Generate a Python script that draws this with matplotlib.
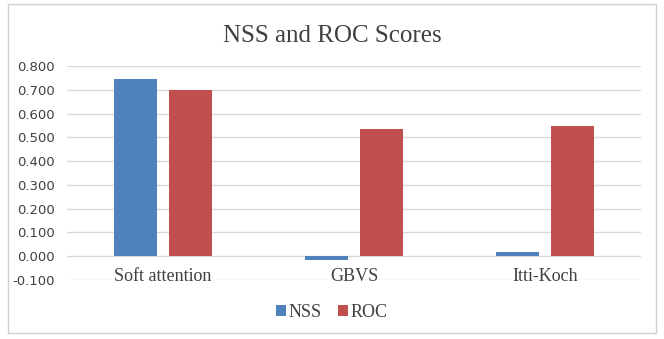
import matplotlib
matplotlib.use("Agg")
import matplotlib.pyplot as plt
from matplotlib.patches import Rectangle
import numpy as np

categories = ["Soft attention", "GBVS", "Itti-Koch"]
nss = [0.744, -0.017, 0.018]
roc = [0.700, 0.535, 0.546]
yticks = [-0.1, 0.0, 0.1, 0.2, 0.3, 0.4, 0.5, 0.6, 0.7, 0.8]

fig = plt.figure(figsize=(6.64, 3.39), dpi=100)
fig.patches.append(Rectangle((0.012, 0.018), 0.976, 0.97, transform=fig.transFigure,
                             fill=False, edgecolor="#d0d0d0", linewidth=1))
ax = fig.add_axes([0.101, 0.174, 0.864, 0.631])

x = np.arange(len(categories))
w = 0.225
off = 0.144
ax.bar(x - off, nss, w, color="#4f81bd", label="NSS", zorder=3)
ax.bar(x + off, roc, w, color="#c0504d", label="ROC", zorder=3)

ax.set_xlim(-0.5, len(categories) - 0.5)
ax.set_ylim(-0.1, 0.8)
ax.set_yticks(yticks)
ax.set_yticklabels([f"{v:.3f}" for v in yticks], fontsize=9.5, color="#404040",
                   family="DejaVu Sans")
ax.tick_params(axis="y", length=0, pad=9)
ax.set_xticks([])
ax.grid(axis="y", color="#d9d9d9", linewidth=1, zorder=0)
for s in ax.spines.values():
    s.set_visible(False)

for i, c in enumerate(categories):
    ax.text(i, -0.086, c, ha="center", va="center", fontsize=13, color="#404040",
            family="Liberation Serif")

fig.text(0.5, 0.895, "NSS and ROC Scores", ha="center", va="center",
         fontsize=18, color="#404040", family="Liberation Serif")

leg = fig.legend(loc="center", bbox_to_anchor=(0.5, 0.078), ncol=2, frameon=False,
                 prop={"family": "Liberation Serif", "size": 13},
                 handlelength=0.55, handleheight=0.55, handletextpad=0.15,
                 columnspacing=0.9)
for t in leg.get_texts():
    t.set_color("#404040")

fig.savefig("out.png", dpi=100)
